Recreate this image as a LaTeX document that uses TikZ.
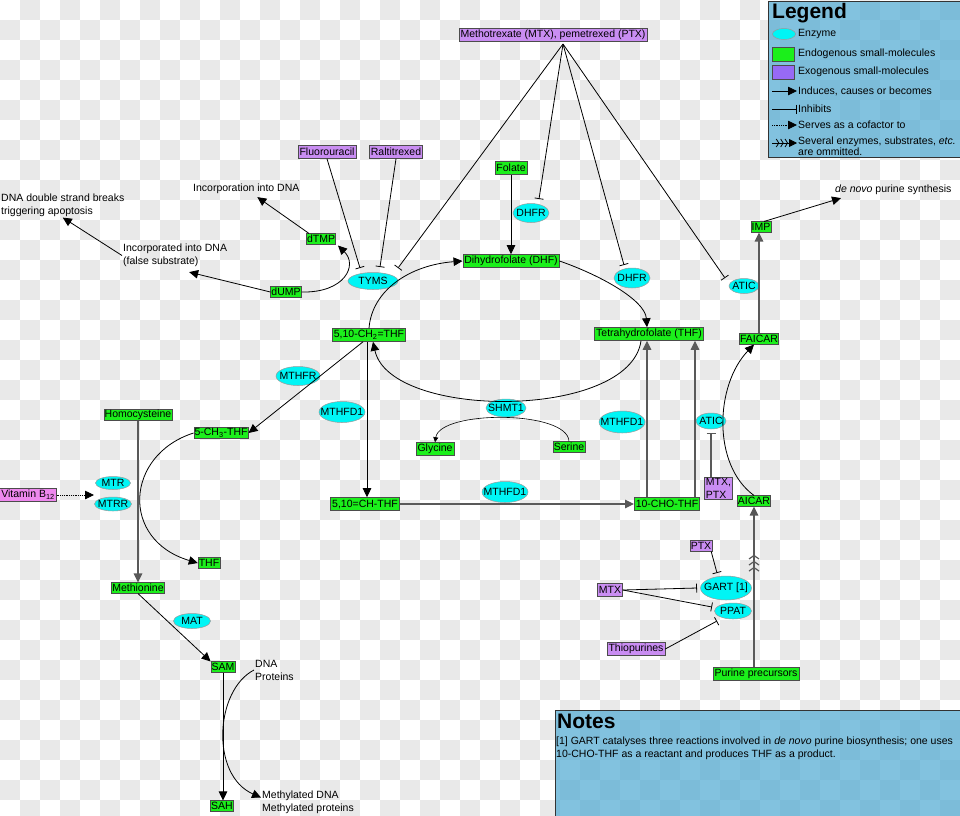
\documentclass[tikz,border=0pt]{standalone}
\usepackage{fontspec}
\setmainfont{Liberation Sans}
\usetikzlibrary{arrows.meta}
\usetikzlibrary{shapes.geometric}
\usetikzlibrary{decorations.markings}
\definecolor{endogreen}{HTML}{1BEF1B}
\definecolor{exopurple}{HTML}{C98DF2}
\definecolor{vitpink}{HTML}{EE88EE}
\definecolor{enzcyan}{HTML}{00F5F5}
\definecolor{legblue}{HTML}{58AED4}
\definecolor{checkgrey}{HTML}{E9E9E9}
\tikzset{
  mol/.style={draw=black!70, line width=0.6pt, inner xsep=1.5pt, inner ysep=0.5pt, minimum height=13pt},
  tight/.style={inner xsep=0.7pt, minimum height=10.5pt},
  endo/.style={mol, fill=endogreen},
  exo/.style={mol, fill=exopurple},
  enz/.style={ellipse, draw=black!40, line width=0.5pt, fill=enzcyan, inner xsep=-6pt, inner ysep=-2pt, minimum height=15pt},
  lbl/.style={anchor=west, align=left, inner sep=1pt},
  act/.style={line width=0.8pt, -{Triangle[length=9pt,width=8.5pt]}},
  inh/.style={line width=0.8pt, -{Bar[width=9pt]}},
  cof/.style={line width=0.8pt, densely dotted, -{Triangle[length=9pt,width=8.5pt]}},
  heavy/.style={draw=black!65, line width=1.2pt},
  several/.style={postaction={decorate, decoration={markings, mark=at position #1 with {\arrow{Straight Barb[length=3.5pt,width=10pt,sep=1.2pt]Straight Barb[length=3.5pt,width=10pt,sep=1.2pt]Straight Barb[length=3.5pt,width=10pt]}}}}},
  sevlegend/.style={line width=0.8pt, -{Straight Barb[length=2.5pt,width=8pt,sep=1pt]Straight Barb[length=2.5pt,width=8pt,sep=1pt]Straight Barb[length=2.5pt,width=8pt,sep=1pt]Triangle[length=8pt,width=8pt]}},
  boxfill/.style={draw=black!80, line width=1pt, fill=legblue, fill opacity=0.75},
}

\begin{document}
\begin{tikzpicture}[x=1pt,y=1pt,font=\fontsize{10.5}{13}\selectfont]
    \useasboundingbox (0,0) rectangle (960,-815);
    \foreach \i in {0,...,47}{
      \foreach \j in {0,...,40}{
        \pgfmathtruncatemacro\k{\i+\j}
        \ifodd\k \fill[checkgrey] (20*\i,-20*\j) rectangle ++(20,-20); \fi
      }
    }

    % folate cycle
    \node[exo] (mtx) at (553,-35) {Methotrexate (MTX), pemetrexed (PTX)};
    \coordinate (mtxp) at (563,-44);
    \node[exo] (fluoro) at (327,-152) {Fluorouracil};
    \node[exo] (ralti) at (396,-152) {Raltitrexed};
    \node[endo] (folate) at (511,-168) {Folate};
    \node[enz, minimum width=36pt, minimum height=19pt] (dhfra) at (531,-213) {DHFR};
    \node[endo] (dhf) at (511,-261) {Dihydrofolate (DHF)};
    \node[enz, minimum width=50pt, minimum height=17pt] (tyms) at (373,-281) {TYMS};
    \node[enz, minimum width=36pt, minimum height=20pt] (dhfrb) at (632,-278) {DHFR};
    \node[endo] (ch2) at (369,-335) {5,10-CH\textsubscript{2}=THF};
    \node[endo] (thf) at (649,-334) {Tetrahydrofolate (THF)};
    \node[enz, minimum width=44pt, minimum height=19pt] (mthfr) at (298,-376) {MTHFR};
    \node[enz, minimum width=46pt, minimum height=21pt] (mthfda) at (342,-412) {MTHFD1};
    \node[enz, minimum width=40pt, minimum height=18pt] (shmt) at (506,-408) {SHMT1};
    \node[enz, minimum width=46pt, minimum height=22pt] (mthfdb) at (622,-422) {MTHFD1};
    \node[endo] (glycine) at (435,-449) {Glycine};
    \node[endo, tight] (serine) at (569,-447) {Serine};
    \node[enz, minimum width=46pt, minimum height=21pt] (mthfdc) at (505,-492) {MTHFD1};
    \node[endo] (ch) at (365,-504) {5,10=CH-THF};
    \node[endo] (cho) at (667,-504) {10-CHO-THF};

    % thymidylate
    \node[endo, tight] (dtmp) at (321,-239) {dTMP};
    \node[endo, tight] (dump) at (286,-292) {dUMP};
    \node[lbl] (incorp) at (192,-189) {Incorporation into DNA};
    \node[lbl] (incd) at (122,-255.5) {Incorporated into DNA\\(false substrate)};
    \node[lbl] (dsb) at (0,-205) {DNA double strand breaks\\triggering apoptosis};

    % purine synthesis
    \node[endo, tight] (imp) at (761,-227) {IMP};
    \node[lbl] (denovo) at (834,-190) {\textit{de novo} purine synthesis};
    \node[enz, minimum width=30pt, minimum height=15pt] (atica) at (744,-286) {ATIC};
    \node[endo, tight] (faicar) at (759,-339) {FAICAR};
    \node[enz, minimum width=30pt, minimum height=16pt] (aticb) at (711,-421) {ATIC};
    \node[exo, align=left, inner ysep=1pt] (mtxptx) at (718.5,-488.5) {MTX,\\PTX};
    \node[endo, tight] (aicar) at (754,-501) {AICAR};
    \node[exo, tight] (ptx) at (701,-546) {PTX};
    \node[enz, minimum width=51pt, minimum height=24pt] (gart) at (726,-588) {GART [1]};
    \node[exo] (mtxs) at (610,-590) {MTX};
    \node[enz, minimum width=37pt, minimum height=16pt] (ppat) at (733,-611) {PPAT};
    \node[exo] (thio) at (636,-649) {Thiopurines};
    \node[endo] (pp) at (756,-674) {Purine precursors};

    % methionine cycle
    \node[endo, tight] (homo) at (138,-415) {Homocysteine};
    \node[endo, tight] (ch3) at (221,-433) {5-CH\textsubscript{3}-THF};
    \node[enz, minimum width=35pt, minimum height=13pt] (mtr) at (113,-483) {MTR};
    \node[enz, minimum width=37pt, minimum height=14pt] (mtrr) at (113,-504) {MTRR};
    \node[mol, fill=vitpink] (vitb) at (28,-495) {Vitamin B\textsubscript{12}};
    \coordinate (mtrin) at (94,-495);
    \node[endo, tight] (thfs) at (209,-563) {THF};
    \node[endo, tight] (methio) at (138,-588) {Methionine};
    \node[enz, minimum width=37pt, minimum height=15pt] (mat) at (192,-621) {MAT};
    \node[endo, tight] (sam) at (223,-667) {SAM};
    \node[lbl] (dnaprot) at (254,-670) {DNA\\Proteins};
    \node[endo, tight] (sah) at (222,-806) {SAH};
    \node[lbl] (methyl) at (261,-802.5) {Methylated DNA\\Methylated proteins};

    \draw[act] (folate.south) -- (folate.south |- dhf.north);
    \draw[act] (ch2.north) .. controls (372,-290) and (410,-265) .. (dhf.west);
    \draw[act] (dhf.east) .. controls (600,-275) and (645,-300) .. ([xshift=-2pt]thf.north);
    \draw[act] ([xshift=-8pt]thf.south) .. controls (630,-420) and (390,-420) .. ([xshift=4pt]ch2.south);
    \draw[act] ([xshift=-6pt]ch2.south) -- (ch3.east);
    \draw[act] ([xshift=-2pt]ch2.south) -- ([xshift=-2pt]ch2.south |- ch.north);
    \draw[act,heavy] (ch.east) -- (cho.west);
    \draw[act,heavy] ([xshift=-20pt]cho.north) -- ([xshift=-20pt]cho.north |- thf.south);
    \draw[act,heavy] ([xshift=28pt]cho.north) -- ([xshift=28pt]cho.north |- thf.south);
    \draw[line width=0.6pt, -{Triangle[length=5pt,width=5pt]}] (serine.north) .. controls (568,-410) and (440,-410) .. (glycine.north);

    \draw[act] (dump.east) .. controls (345,-293) and (358,-265) .. ([shift={(2pt,-1pt)}]dtmp.south east);
    \draw[act] ([xshift=3pt]dtmp.north west) -- ([shift={(11pt,-2pt)}]incorp.south);
    \draw[act] (dump.west) -- ([shift={(14pt,-4pt)}]incd.south);
    \draw[act] (incd.west) -- (dsb.south);
    \draw[inh] (fluoro.south) -- ([shift={(-13pt,13pt)}]tyms.center);
    \draw[inh] (ralti.south) -- ([shift={(7pt,14pt)}]tyms.center);
    \draw[inh] (mtxp) -- ([shift={(25pt,13pt)}]tyms.center);
    \draw[inh] (mtxp) -- ([shift={(8pt,14pt)}]dhfra.center);
    \draw[inh] (mtxp) -- ([shift={(-8pt,13pt)}]dhfrb.center);
    \draw[inh] (mtxp) -- ([shift={(-19pt,8pt)}]atica.center);

    \draw[act,heavy,several=0.7] (aicar.south |- pp.north) -- (aicar.south);
    \draw[act] (aicar.north) .. controls (712,-465) and (715,-385) .. ([xshift=-5pt]faicar.south);
    \draw[act,heavy] (faicar.north) -- (faicar.north |- imp.south);
    \draw[act] ([xshift=3pt]imp.north) -- ([shift={(7pt,-2pt)}]denovo.south west);
    \draw[inh,heavy] (aticb.center |- mtxptx.north) -- ([yshift=-12pt]aticb.center);
    \draw[inh] ([xshift=-1pt]ptx.south east) -- ([shift={(-9pt,15pt)}]gart.center);
    \draw[inh] (mtxs.east) -- ([xshift=-29pt]gart.center);
    \draw[inh] (mtxs.east) -- ([shift={(-21pt,4pt)}]ppat.center);
    \draw[inh] (thio.east) -- ([shift={(-16pt,-10pt)}]ppat.center);

    \draw[act,heavy] (homo.south) -- (homo.south |- methio.north);
    \draw[cof] (vitb.east) -- (mtrin);
    \draw[act] (ch3.west) .. controls (125,-455) and (120,-540) .. (thfs.west);
    \draw[act] (methio.south) -- (sam.north west);
    \draw[act] (sam.south) -- (sam.south |- sah.north);
    \draw[act] (dnaprot.west) .. controls (215,-690) and (210,-775) .. ([yshift=5pt]methyl.west);

    % legend
    \draw[boxfill] (768,-1) rectangle (961,-157);
    \node[anchor=west, inner sep=0, font=\bfseries\fontsize{21}{24}\selectfont] (legtitle) at (772,-13) {Legend};
    \node[enz, minimum width=23pt, minimum height=11pt] (legenz) at (784,-34) {};
    \node[lbl] (legenzt) at (797,-34) {Enzyme};
    \node[endo, minimum width=22pt, minimum height=14pt] (legendo) at (783,-54) {};
    \node[lbl] (legendot) at (797,-54) {Endogenous small-molecules};
    \node[exo, fill=exopurple!75!blue, minimum width=22pt, minimum height=14pt] (legexo) at (783,-72) {};
    \node[lbl] (legexot) at (797,-72) {Exogenous small-molecules};
    \coordinate (legact) at (772,-91);
    \node[lbl] (legactt) at (797,-91) {Induces, causes or becomes};
    \draw[act] (legact) -- (legactt.west);
    \coordinate (leginh) at (772,-109);
    \node[lbl] (leginht) at (797,-109) {Inhibits};
    \draw[inh] (leginh) -- (leginht.west);
    \coordinate (legcof) at (772,-125);
    \node[lbl] (legcoft) at (797,-125) {Serves as a cofactor to};
    \draw[cof] (legcof) -- (legcoft.west);
    \coordinate (legsev) at (772,-143);
    \node[lbl, font=\fontsize{10.5}{11}\selectfont] (legsevt) at (797,-146) {Several enzymes, substrates, \textit{etc.}\\are ommitted.};
    \draw[sevlegend] (legsev) -- (legsevt.west |- legsev);

    % notes
    \draw[boxfill] (555,-710) rectangle (961,-816);
    \node[anchor=west, inner sep=0, font=\bfseries\fontsize{21}{24}\selectfont] (notestitle) at (557,-721) {Notes};
    \node[lbl, inner sep=0] (notestxt) at (556,-748.5) {[1] GART catalyses three reactions involved in \textit{de novo} purine biosynthesis; one uses\\10-CHO-THF as a reactant and produces THF as a product.};
\end{tikzpicture}
\end{document}
